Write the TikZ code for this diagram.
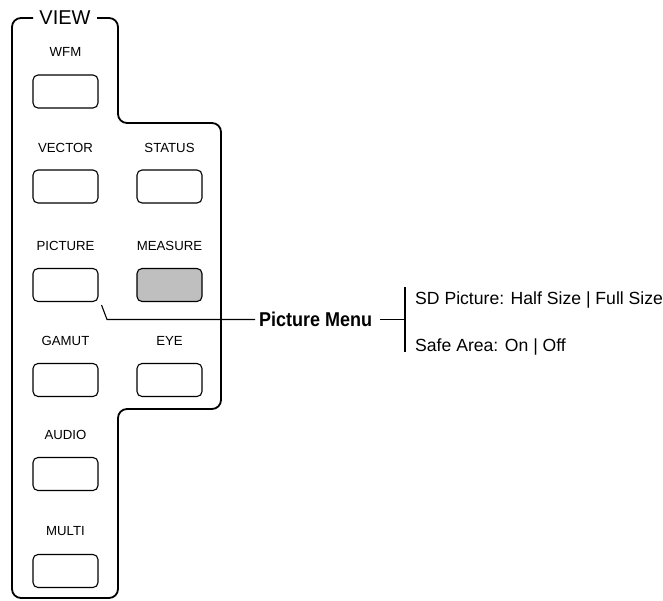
\documentclass[tikz,border=0pt]{standalone}
\usepackage{fontspec}
\setmainfont{Liberation Sans}
\usetikzlibrary{positioning}

\tikzset{
	btn/.style={draw, line width=1.1pt, rounded corners=5pt, minimum width=65pt, minimum height=33pt, inner sep=0pt},
	btnlbl/.style={font=\fontsize{13.2}{15}\selectfont, inner sep=0pt},
	menuitem/.style={font=\fontsize{17.6}{20}\selectfont, inner sep=0pt, anchor=base west},
}

\begin{document}
\begin{tikzpicture}[x=1pt,y=-1pt]
		\useasboundingbox (0,0) rectangle (663,600);
		
		% outline of the VIEW group
		\node[font=\fontsize{20}{22}\selectfont, inner sep=0pt] (view) at (65,18) {VIEW};
		\draw[line width=1.8pt, rounded corners=9pt] (33,18) -- (12,18) -- (12,598) -- (118,598) -- (118,409) -- (221,409) -- (221,123) -- (118,123) -- (118,18) -- (97,18);
		
		% buttons
		\node[btn] (wfm) at (65.5,91.5) {};
		\node[btn] (vector) at (65.5,186.5) {};
		\node[btn] (status) at (169.5,186.5) {};
		\node[btn] (picture) at (65.5,285) {};
		\node[btn, fill=black!25] (measure) at (169.5,285) {};
		\node[btn] (gamut) at (65.5,380) {};
		\node[btn] (eye) at (169.5,380) {};
		\node[btn] (audio) at (65.5,474) {};
		\node[btn] (multi) at (65.5,571) {};
		
		\node[btnlbl] at (65.5,52) {WFM};
		\node[btnlbl] at (65.5,147.5) {VECTOR};
		\node[btnlbl] at (169.5,147.5) {STATUS};
		\node[btnlbl] at (65.5,245.5) {PICTURE};
		\node[btnlbl] at (169.5,245.5) {MEASURE};
		\node[btnlbl] at (65.5,340.5) {GAMUT};
		\node[btnlbl] at (169.5,340.5) {EYE};
		\node[btnlbl] at (65.5,434.5) {AUDIO};
		\node[btnlbl] at (65.5,531.5) {MULTI};
		
		% callout
		\node[font=\bfseries\addfontfeatures{FakeStretch=0.9}\fontsize{20}{22}\selectfont, inner sep=0pt, anchor=base west] (pmenu) at (259,326) {Picture Menu};
		\coordinate (kink) at (107,319.5);
		\coordinate (bar) at (405,319.5);
		\draw[line width=1.1pt] ([xshift=3pt,yshift=-3pt]picture.south east) -- (kink) -- ([xshift=-4pt]kink -| pmenu.west);
		\draw[line width=1.1pt] ([xshift=8pt]pmenu.east |- kink) -- (bar);
		\draw[line width=1.1pt] (405,287) -- (405,352);
		
		\node[menuitem] (sdpic) at (415,304.5) {SD Picture: Half Size | Full Size};
		\node[menuitem] (safe) at (415,351.5) {Safe Area: On | Off};
	\end{tikzpicture}
\end{document}
